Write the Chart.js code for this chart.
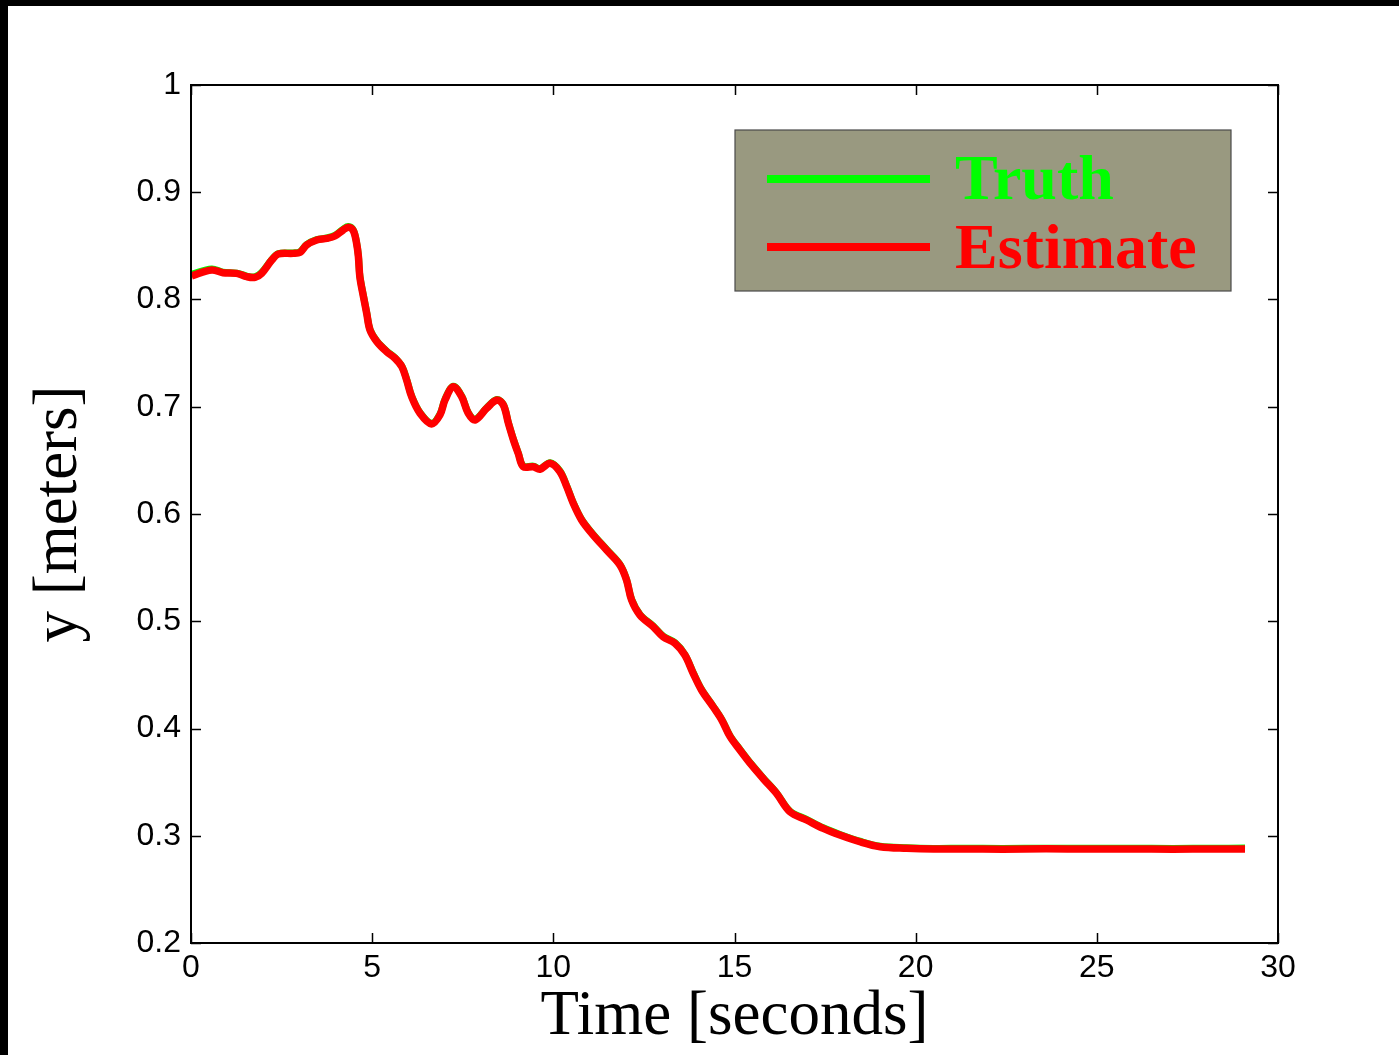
<!DOCTYPE html>
<html>
<head>
<meta charset="utf-8">
<script src="https://cdn.jsdelivr.net/npm/chart.js@4.4.1/dist/chart.umd.min.js"></script>
<style>
  html, body { margin: 0; padding: 0; background: #000; width: 1399px; height: 1055px; overflow: hidden; }
  #frame { position: absolute; left: 8px; top: 6px; width: 1391px; height: 1049px; background: #fff; }
  canvas { display: block; }
</style>
</head>
<body>
<div id="frame"><canvas id="chartCanvas" width="1391" height="1049"></canvas></div>
<script>
// --- data ---
const timeSec = [0.02, 0.57, 0.88, 1.26, 1.54, 1.77, 1.95, 2.23, 2.41, 2.82, 3.01, 3.19, 3.47, 3.75, 3.97,
  4.20, 4.34, 4.48, 4.57, 4.62, 4.66, 4.76, 4.85, 4.94, 5.13, 5.40, 5.63, 5.82, 5.95, 6.09, 6.32, 6.64,
  6.87, 7.01, 7.24, 7.47, 7.65, 7.84, 8.16, 8.44, 8.62, 8.76, 8.90, 9.03, 9.17, 9.45, 9.63, 9.91, 10.18,
  10.37, 10.55, 10.78, 11.06, 11.47, 11.84, 12.02, 12.16, 12.39, 12.76, 13.03, 13.36, 13.63, 13.86, 14.09,
  14.41, 14.65, 14.88, 15.15, 15.47, 15.80, 16.16, 16.53, 16.99, 17.45, 17.91, 18.46, 19.02, 19.75, 20.5,
  21.3, 22.4, 23.6, 24.8, 25.9, 27.1, 28.2, 29.09];
const estimateY = [0.822, 0.8275, 0.825, 0.8244, 0.8213, 0.8207, 0.8244, 0.8368, 0.8424, 0.843, 0.844, 0.8508,
  0.8555, 0.857, 0.8592, 0.8648, 0.8673, 0.8642, 0.8524, 0.840, 0.8213, 0.8026, 0.787, 0.7716, 0.7607,
  0.7513, 0.7452, 0.7373, 0.725, 0.7094, 0.694, 0.684, 0.6923, 0.7063, 0.7187, 0.7094, 0.694, 0.6876,
  0.6985, 0.7063, 0.7016, 0.6846, 0.669, 0.6566, 0.6441, 0.6441, 0.6417, 0.6473, 0.6395, 0.6255, 0.61,
  0.5944, 0.582, 0.5664, 0.5524, 0.5385, 0.5198, 0.5058, 0.4949, 0.4856, 0.4794, 0.4685, 0.4515, 0.4359,
  0.4203, 0.4079, 0.3924, 0.38, 0.366, 0.353, 0.3395, 0.3224, 0.3147, 0.3069, 0.3007, 0.2944, 0.2898,
  0.2883, 0.2876, 0.2877, 0.2875, 0.2878, 0.2876, 0.2877, 0.2875, 0.2877, 0.2876];
const truthY = [0.8235, 0.8285, 0.8255, 0.8246, 0.8218, 0.8212, 0.8252, 0.8372, 0.8428, 0.8434, 0.8446, 0.8512,
  0.8558, 0.8574, 0.8598, 0.8656, 0.8680, 0.8648, 0.8530, 0.8410, 0.8222, 0.8034, 0.7878, 0.7722, 0.7612,
  0.7520, 0.7458, 0.7378, 0.7258, 0.7100, 0.6946, 0.6846, 0.6930, 0.7070, 0.7192, 0.7100, 0.6946, 0.6882,
  0.6990, 0.7068, 0.7022, 0.6852, 0.6696, 0.6572, 0.6448, 0.6446, 0.6422, 0.6478, 0.6402, 0.6262, 0.6106,
  0.5950, 0.5826, 0.5670, 0.5530, 0.5390, 0.5204, 0.5064, 0.4955, 0.4862, 0.4800, 0.4690, 0.4521, 0.4365,
  0.4208, 0.4085, 0.3930, 0.3806, 0.3666, 0.3536, 0.3400, 0.3230, 0.3152, 0.3074, 0.3012, 0.2949, 0.2902,
  0.2888, 0.2882, 0.2883, 0.2882, 0.2884, 0.2883, 0.2884, 0.2882, 0.2884, 0.2885];

const seriesNames = ["Truth", "Estimate"];
const seriesColors = ["#00ff00", "#ff0000"];
const yTickLabels = ["0.2", "0.3", "0.4", "0.5", "0.6", "0.7", "0.8", "0.9", "1"];
const xTickLabels = ["0", "5", "10", "15", "20", "25", "30"];

const toPoints = (xs, ys) => xs.map((x, i) => ({ x, y: ys[i] }));

// matlab-style box with inward ticks on all four sides
const boxTicks = {
  id: "boxTicks",
  afterDraw(chart) {
    const { ctx, chartArea: a, scales } = chart;
    ctx.save();
    ctx.strokeStyle = "#000";
    ctx.lineWidth = 1.5;
    const len = 10;
    scales.x.ticks.forEach(t => {
      const px = Math.round(scales.x.getPixelForValue(t.value)) + 0.5;
      ctx.beginPath();
      ctx.moveTo(px, a.bottom); ctx.lineTo(px, a.bottom - len);
      ctx.moveTo(px, a.top); ctx.lineTo(px, a.top + len);
      ctx.stroke();
    });
    scales.y.ticks.forEach(t => {
      const py = Math.round(scales.y.getPixelForValue(t.value)) + 0.5;
      ctx.beginPath();
      ctx.moveTo(a.left, py); ctx.lineTo(a.left + len, py);
      ctx.moveTo(a.right, py); ctx.lineTo(a.right - len, py);
      ctx.stroke();
    });
    ctx.lineWidth = 2;
    ctx.strokeRect(a.left, a.top, a.right - a.left, a.bottom - a.top);
    ctx.restore();
  }
};

// boxed legend in the upper right of the axes
const boxLegend = {
  id: "boxLegend",
  afterDraw(chart) {
    const { ctx } = chart;
    ctx.save();
    ctx.fillStyle = "#999980";
    ctx.fillRect(727, 124, 496, 161);
    ctx.strokeStyle = "#4a4a4a";
    ctx.lineWidth = 1.2;
    ctx.strokeRect(727, 124, 496, 161);
    ctx.font = "bold 64px 'Liberation Serif', 'Times New Roman', serif";
    ctx.textBaseline = "alphabetic";
    const rows = [{ ly: 173, ty: 193 }, { ly: 241, ty: 262 }];
    seriesNames.forEach((name, i) => {
      const ds = chart.data.datasets.find(d => d.label === name);
      ctx.strokeStyle = ds.borderColor;
      ctx.lineWidth = 8;
      ctx.beginPath();
      ctx.moveTo(759, rows[i].ly); ctx.lineTo(922, rows[i].ly);
      ctx.stroke();
      ctx.fillStyle = ds.borderColor;
      ctx.fillText(name, 947, rows[i].ty);
    });
    ctx.restore();
  }
};

const tickFont = { family: "'Liberation Sans', Arial, sans-serif", size: 32 };
const titleFont = { family: "'Liberation Serif', 'Times New Roman', serif", size: 63, lineHeight: 1 };

new Chart(document.getElementById("chartCanvas"), {
  type: "line",
  data: {
    datasets: [
      {
        label: seriesNames[1],
        data: toPoints(timeSec, estimateY),
        borderColor: seriesColors[1],
        borderWidth: 7.5,
        pointRadius: 0,
        borderJoinStyle: "round",
        tension: 0.35,
        order: 1
      },
      {
        label: seriesNames[0],
        data: toPoints(timeSec, truthY),
        borderColor: seriesColors[0],
        borderWidth: 7,
        pointRadius: 0,
        borderJoinStyle: "round",
        tension: 0.35,
        order: 2
      }
    ]
  },
  options: {
    responsive: false,
    animation: false,
    events: [],
    layout: { padding: { left: 0, top: 79, right: 121, bottom: 0 } },
    plugins: { legend: { display: false }, tooltip: { enabled: false } },
    scales: {
      x: {
        type: "linear",
        min: 0, max: 30,
        grid: { display: false, drawTicks: false },
        border: { display: false },
        ticks: {
          stepSize: 5, autoSkip: false, maxRotation: 0, padding: 6,
          color: "#000", font: tickFont,
          callback: (v, i) => xTickLabels[i]
        },
        title: { display: true, text: "Time [seconds]", color: "#000", font: titleFont, padding: { bottom: 6 } },
        afterFit: s => { s.height = 112; }
      },
      y: {
        min: 0.2, max: 1,
        grid: { display: false, drawTicks: false },
        border: { display: false },
        ticks: {
          stepSize: 0.1, autoSkip: false, padding: 10,
          color: "#000", font: tickFont,
          callback: (v, i) => yTickLabels[i]
        },
        title: { display: true, text: "y [meters]", color: "#000", font: titleFont, padding: { top: 20 } },
        afterFit: s => { s.width = 183; }
      }
    }
  },
  plugins: [boxTicks, boxLegend]
});
</script>
</body>
</html>
